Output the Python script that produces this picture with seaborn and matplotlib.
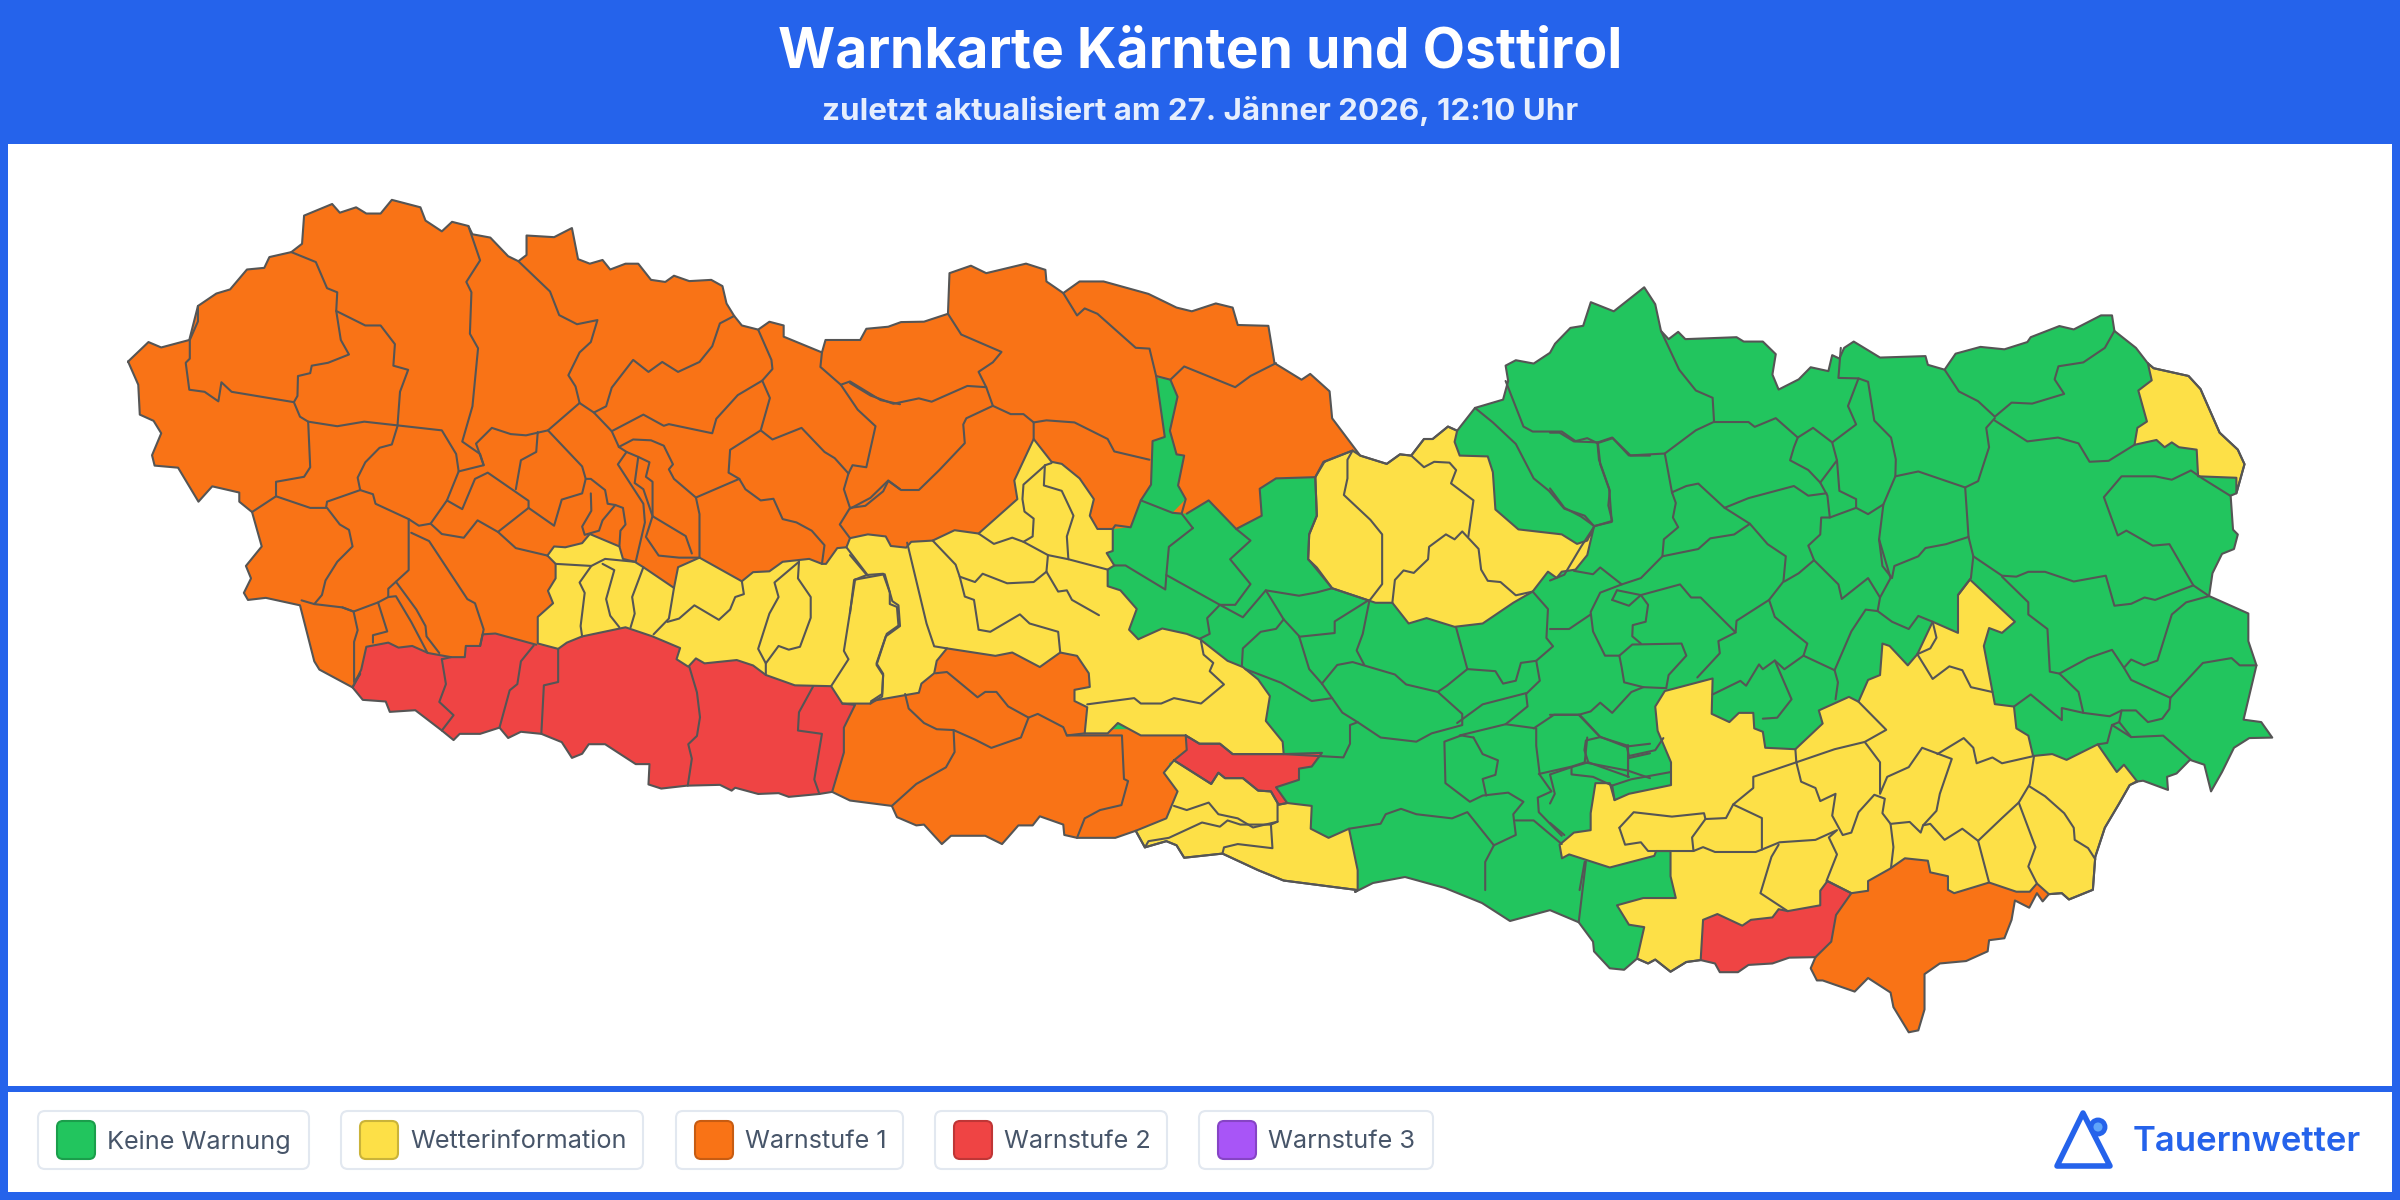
import matplotlib
matplotlib.use("Agg")
import matplotlib.pyplot as plt
from matplotlib.patches import Polygon, Rectangle, FancyBboxPatch, Circle
import pandas as pd
import seaborn as sns

TITLE = "Warnkarte Kärnten und Osttirol"
SUBTITLE = "zuletzt aktualisiert am 27. Jänner 2026, 12:10 Uhr"
BRAND = "Tauernwetter"
LEVELS = ["Keine Warnung", "Wetterinformation", "Warnstufe 1", "Warnstufe 2", "Warnstufe 3"]
LEVEL_COLORS = ["#22C55E", "#FDE047", "#F97316", "#EF4444", "#A855F7"]
LEVEL_EDGES = ["#1B9E4B", "#CAB339", "#C75C12", "#BF3636", "#8644C5"]
BLUE = "#2563EB"
STROKE = "#555555"

# the map was traced on three crops of the picture: (left, top, x scale, y scale)
WEST = (100, 170, 1.96, 2.412)
MID = (850, 240, 1.96, 2.412)
EAST = (1550, 280, 2.0907, 2.063)


def to_xy(points, crop):
    return [(crop[0] + x / crop[2], crop[1] + y / crop[3]) for x, y in points]


# ---- outline, clockwise
west_top = [(55,462),(95,415),(120,428),(175,410),(192,328),(228,298),(255,288),(288,240),(322,236),(332,210),(375,198),(396,178),(400,110),(455,82),(470,103),(502,90),(522,105),(550,105),(572,72),(628,90),(638,122),(670,148),(690,125),(722,135),(730,155),(765,163),(800,208),(820,220),(836,205),(836,158),(890,162),(925,140),(937,215),(960,226),(985,217),(1000,240),(1030,226),(1055,226),(1080,265),(1108,270),(1125,255),(1155,268),(1198,265),(1220,280),(1228,322),(1243,352),(1258,375),(1290,385),(1312,366),(1340,375),(1340,402),(1415,440),(1422,410),(1490,410),(1502,383),(1545,378)]
mid_top = [(100,198),(145,197),(192,178),(195,80),(237,62),(267,80),(345,57),(383,72),(385,100),(418,128),(450,100),(497,100),(585,130),(640,163),(670,172),(717,153),(750,163),(760,205),(820,207),(832,297),(885,337),(902,323),(940,365),(945,430),(1000,520),(1052,540),(1078,517),(1100,520),(1125,480),(1142,480),(1172,450),(1190,460),(1225,405),(1280,385),(1290,340),(1285,303),(1305,290),(1340,298),(1372,272),(1382,250),(1412,212),(1437,207),(1452,150),(1497,172)]
east_outer = [(197,15),(220,50),(232,105),(248,122),(268,107),(283,122),(390,118),(405,127),(445,127),(472,153),(465,195),(478,226),(520,205),(545,180),(582,188),(590,155),(605,162),(615,140),(635,127),(690,160),(785,157),(790,175),(825,185),(848,152),(900,138),(950,143),(998,128),(1005,118),(1065,95),(1095,102),(1152,73),(1175,73),(1180,105),(1225,140),(1250,172),(1262,182),(1335,198),(1360,225),(1400,315),(1438,350),(1452,380),(1435,440),(1423,445),(1428,515),(1438,525),(1430,555),(1405,565),(1385,605),(1378,652),(1460,688),(1460,745),(1477,795),(1450,907),(1487,912),(1510,944),(1462,945),(1430,965),(1405,1015),(1382,1055),(1368,1000),(1338,990),(1310,1018),(1290,1025),(1292,1052),(1240,1033),(1225,1035),(1212,1042),(1190,1080),(1160,1130),(1140,1190),(1135,1258),(1085,1278),(1070,1265),(1043,1267),(1030,1282),(1018,1265),(1002,1295),(972,1280),(965,1320),(950,1358),(918,1362),(915,1385),(870,1405),(815,1410),(783,1432),(783,1505),(770,1548),(750,1552),(718,1500),(712,1470),(665,1440),(637,1468),(570,1445),(558,1445),(545,1420),(555,1397),(500,1398),(465,1410),(415,1413),(393,1428),(355,1428),(345,1410),(315,1403),(285,1407),(252,1427),(220,1402),(205,1410),(182,1400),(155,1423),(125,1420),(92,1385),(90,1365),(60,1325),(0,1300)]
south_link = [(1510,921),(1482,903),(1445,888),(1405,877),(1373,883),(1355,892)]
mid_bottom = [(995,1568),(850,1545),(800,1520),(730,1480),(655,1490),(640,1460),(620,1450),(578,1465),(560,1425),(520,1442),(445,1442),(420,1435),(418,1410),(372,1390),(358,1412),(330,1412),(298,1457),(265,1437),(198,1437),(180,1457),(145,1410),(130,1412),(92,1392),(82,1365),(0,1352)]
west_bottom = [(1435,1500),(1410,1505),(1350,1512),(1330,1503),(1290,1505),(1245,1490),(1238,1497),(1215,1483),(1150,1485),(1100,1492),(1075,1482),(1077,1433),(1050,1433),(990,1385),(958,1385),(945,1408),(925,1418),(905,1380),(865,1360),(825,1355),(800,1370),(783,1345),(745,1360),(705,1360),(693,1375),(670,1352),(618,1303),(568,1307),(560,1282),(515,1278),(495,1248),(430,1205),(420,1185),(392,1050),(325,1032),(290,1037),(282,1020),(296,985),(286,955),(317,908),(298,825),(273,800),(273,778),(220,763),(193,800),(153,718),(107,713),(102,688),(120,635),(105,605),(78,590),(75,518),(55,462)]

outline = (to_xy(west_top, WEST) + to_xy(mid_top, MID) + to_xy(east_outer, EAST) + south_link
           + to_xy(mid_bottom, MID) + to_xy(west_bottom, WEST))

# ---- colour blocks, painted in this order and clipped to the outline
orange_block = [(-1700,-700),(1010,-700),(1010,510),(985,508),(928,535),(912,572),(835,575),(803,600),(807,665),(757,697),(703,628),(660,660),(632,658),(570,628),(550,693),(515,697),(500,760),(500,1180),(660,1180),(660,1240),(625,1262),(642,1330),(620,1395),(560,1425),(520,1600),(-1700,1700)]
green_strip = [(600,332),(628,337),(642,378),(627,460),(640,517),(655,520),(643,592),(658,625),(632,658),(570,628),(590,590),(593,485),(617,475)]
yellow_mid_west = [(877,930),(890,908),(912,910),(945,900),(960,878),(1018,908),(1025,938),(1048,945),(1065,958),(1125,1008),(1133,958),(1175,935),(1258,992),(1280,970),(1312,968),(1338,945),(1390,938),(1415,950),(1423,950),(1445,912),(1463,910),(1470,888)]
yellow_mid_north = [(35,710),(70,715),(80,738),(110,742),(120,728),(162,725),(205,700),(252,708),(328,625),(322,580),(360,480),(395,535),(415,540),(450,575),(478,625),(470,665),(485,697),(515,697),(515,750),(503,755),(518,785),(505,795),(505,835),(530,845),(562,890),(547,940),(565,963),(612,937),(660,950),(685,962),(740,1015),(770,1030),(800,1060),(823,1100),(815,1160),(848,1210),(850,1240),(750,1240),(725,1215),(685,1215),(658,1195),(600,1195),(570,1195),(525,1165),(505,1190),(460,1190),(465,1127),(440,1112),(440,1085),(470,1078),(468,1045),(445,1003),(412,995),(372,1030),(318,995),(285,1003),(190,985),(170,1015),(165,1045),(140,1070),(135,1092),(42,1112)]
yellow_mid_south = [(1510,1287),(1455,1287),(1433,1245),(1362,1243),(1305,1218),(1280,1195),(1248,1182),(1185,1190),(1168,1178),(1153,1198),(1130,1180),(1137,1153),(1083,1125),(1030,1103),(945,1125),(915,1140),(898,1155),(858,1142),(858,1078),(888,1045),(878,1015),(893,985),(893,950)]
yellow_south = [(635,1255),(615,1285),(642,1330),(620,1395),(560,1425),(578,1465),(620,1450),(640,1460),(655,1490),(730,1480),(800,1520),(850,1545),(995,1568),(995,1520),(978,1420),(938,1442),(903,1420),(905,1365),(857,1358),(840,1362),(825,1330),(800,1328),(770,1298),(735,1298),(722,1285),(708,1312)]
yellow_north = [(930,535),(985,508),(1000,520),(1052,540),(1078,517),(1100,520),(1125,480),(1142,480),(1172,450),(1190,460),(1185,487),(1195,520),(1250,522),(1260,560),(1265,650),(1310,698),(1395,710),(1425,733),(1445,725),(1458,692),(1445,760),(1422,795),(1395,800),(1385,815),(1368,800),(1338,848),(1300,875),(1240,925),(1185,933),(1130,912),(1095,925),(1063,875),(1030,875),(1018,870),(945,840),(905,780),(898,770),(900,710),(915,665),(912,572)]
yellow_ne = [(1250,172),(1262,182),(1335,198),(1360,225),(1400,315),(1438,350),(1452,380),(1435,440),(1435,408),(1355,405),(1352,350),(1315,345),(1300,335),(1285,345),(1268,330),(1222,340),(1228,305),(1248,292),(1230,228),(1258,207)]
yellow_se = [(878,618),(972,705),(945,728),(918,718),(907,755),(930,875),(970,880),(975,925),(1000,940),(1010,982),(1050,978),(1080,990),(1145,958),(1185,1015),(1200,1000),(1228,1035),(1212,1042),(1190,1080),(1160,1130),(1140,1190),(1135,1258),(1085,1278),(1070,1265),(1043,1267),(1018,1245),(1003,1262),(975,1262),(918,1243),(845,1265),(832,1258),(832,1230),(795,1222),(790,1198),(742,1193),(710,1215),(665,1240),(665,1260),(630,1265),(580,1240),(565,1260),(565,1290),(497,1302),(478,1298),(465,1315),(420,1320),(402,1332),(350,1308),(320,1320),(315,1403),(285,1407),(252,1427),(220,1402),(205,1410),(182,1400),(197,1335),(165,1330),(140,1290),(195,1275),(263,1275),(252,1230),(252,1178),(222,1178),(218,1188),(125,1212),(40,1185),(25,1193),(20,1165),(50,1140),(85,1135),(85,1100),(95,1038),(125,1038),(135,1073),(165,1060),(253,1042),(253,995),(225,930),(220,880),(240,848),(340,822),(338,895),(375,912),(395,893),(425,893),(427,925),(445,932),(450,965),(513,968),(570,915),(562,888),(625,860),(645,870),(665,825),(690,815),(695,750),(710,755),(748,795),(768,772),(800,705),(853,728),(853,650)]
red_west = [(495,1248),(512,1205),(522,1150),(565,1140),(585,1152),(612,1148),(643,1165),(688,1175),(715,1175),(717,1148),(745,1148),(750,1120),(775,1118),(855,1145),(898,1155),(915,1140),(945,1125),(1030,1103),(1083,1125),(1137,1153),(1130,1180),(1153,1198),(1168,1178),(1185,1190),(1248,1182),(1280,1195),(1305,1218),(1362,1243),(1433,1245),(1455,1287),(1480,1290),(1458,1345),(1458,1405),(1435,1500),(1435,1700),(400,1700),(400,1300)]
red_mid = [(658,1195),(685,1215),(725,1215),(750,1240),(850,1240),(925,1237),(905,1270),(880,1275),(880,1302),(835,1320),(857,1358),(840,1362),(825,1330),(800,1328),(770,1298),(735,1298),(722,1285),(708,1312),(635,1255),(660,1230)]
red_east = [(580,1240),(565,1260),(565,1290),(497,1302),(478,1298),(465,1315),(420,1320),(402,1332),(350,1308),(320,1320),(315,1403),(300,1500),(600,1500),(555,1397),(588,1365),(598,1310),(630,1265)]
orange_east = [(630,1265),(665,1260),(665,1240),(710,1215),(742,1193),(790,1198),(795,1222),(832,1230),(832,1258),(845,1265),(918,1243),(975,1262),(1003,1262),(1018,1245),(1043,1267),(1100,1290),(1100,1700),(545,1700),(545,1420),(555,1397),(588,1365),(598,1310)]

yellow_mid = to_xy(yellow_mid_west, WEST) + to_xy(yellow_mid_north, MID) + to_xy(yellow_mid_south, WEST)

blocks = [
    (2, to_xy(orange_block, MID)),
    (0, to_xy(green_strip, MID)),
    (1, yellow_mid),
    (1, to_xy(yellow_south, MID)),
    (1, to_xy(yellow_north, MID)),
    (1, to_xy(yellow_ne, EAST)),
    (1, to_xy(yellow_se, EAST)),
    (3, to_xy(red_west, WEST)),
    (3, to_xy(red_mid, MID)),
    (3, to_xy(red_east, EAST)),
    (2, to_xy(orange_east, EAST)),
]

# ---- inner borders between the districts
west_borders = [
    [(192,328),(192,365),(176,410),(176,455),(168,465),(175,530),(205,535),(232,558),(238,512),(258,535),(380,560),(392,595),(408,607),(465,618),(518,607),(670,628),(698,685),(703,727),(752,712),(737,660),(768,622),(805,637),(835,640),(878,628),(940,562),(968,585),(1003,630),(1017,668)],
    [(375,198),(423,222),(445,285),(465,295),(463,340),(472,410),(488,445),(447,465),(415,472),(412,490),(388,497),(387,545),(380,560)],
    [(463,340),(520,375),(550,375),(578,420),(575,472),(604,482),(588,535),(583,618),(572,662),(548,670),(520,705),(505,742),(510,772),(445,800),(443,815),(412,815),(345,787),(298,825)],
    [(408,607),(412,717),(400,740),(345,752),(345,787)],
    [(722,135),(745,218),(718,270),(728,295),(725,395),(741,430),(730,570),(710,655),(745,685),(752,712)],
    [(820,220),(882,293),(900,350),(935,372),(975,362),(962,415),(940,440),(918,495),(932,522),(940,562)],
    [(968,585),(992,570),(1003,525),(1045,458),(1075,487),(1102,463),(1133,487),(1175,463),(1200,425),(1215,370),(1243,352)],
    [(1003,630),(1065,590),(1105,617),(1115,613),(1200,635),(1208,600),(1250,543),(1298,508),(1318,480),(1316,458),(1290,385)],
    [(1298,508),(1313,550),(1295,628),(1235,675),(1232,730),(1253,745),(1168,790),(1125,745),(1115,722),(1123,710),(1105,665),(1080,652),(1045,650),(1017,668)],
    [(1168,790),(1175,830),(1175,935)],
    [(1295,628),(1318,650),(1375,622),(1420,680),(1440,695),(1467,732),(1458,770),(1470,815),(1450,855),(1470,888)],
    [(1415,440),(1412,475),(1452,518),(1470,510),(1530,555),(1568,565)],
    [(1452,518),(1485,578),(1520,618),(1502,717),(1475,712),(1467,732)],
    [(1470,815),(1500,810),(1535,775),(1545,750),(1568,770)],
    [(1253,745),(1265,770),(1295,797),(1320,793),(1338,842),(1365,850),(1395,870),(1420,905),(1415,950)],
    [(878,628),(945,715),(952,745),(945,780),(905,795),(890,858),(840,815),(840,798),(760,730),(735,745),(710,818),(680,797),(703,727)],
    [(680,797),(648,853),(625,858),(605,842),(540,805),(535,782),(510,772)],
    [(858,632),(855,680),(825,700),(815,770)],
    [(840,815),(780,873),(740,845),(713,887),(670,878),(648,853)],
    [(780,873),(815,912),(877,930)],
    [(952,745),(962,745),(990,772),(995,805),(1010,808),(1025,815),(1030,855),(1020,870),(1018,908)],
    [(962,780),(963,822),(945,860),(950,880),(978,870),(985,845),(1010,808)],
    [(605,842),(605,965),(565,1010),(565,1030),(545,1043),(497,1065),(475,1055),(420,1047),(395,1038)],
    [(445,815),(470,855),(488,868),(495,908),(465,945),(442,990),(435,1025),(420,1047)],
    [(610,875),(645,895),(720,1035),(735,1045),(752,1108),(745,1148)],
    [(580,993),(620,1060),(638,1100),(640,1125),(665,1165)],
    [(565,1030),(580,1028),(610,1090),(642,1165)],
    [(545,1043),(563,1113),(535,1122),(535,1140)],
    [(475,1055),(497,1065),(505,1110),(498,1138),(498,1235),(510,1215),(495,1248)],
    [(1032,680),(1015,710),(1065,805),(1068,850),(1050,945)],
    [(1017,668),(1032,680),(1055,692),(1048,755),(1065,770),(1083,835),(1070,885),(1095,930),(1135,935),(1175,935)],
    [(1055,692),(1077,705),(1070,740),(1083,752),(1083,835),(1148,883),(1160,925)],
    [(893,950),(963,955),(990,938),(1048,945)],
    [(963,955),(940,995),(950,1020),(942,1100),(945,1125)],
    [(985,950),(1008,965),(992,1035),(1000,1075),(1018,1103)],
    [(1065,958),(1043,1030),(1048,1070),(1040,1103)],
    [(1125,1008),(1115,1082),(1085,1120)],
    [(1112,1090),(1135,1082),(1165,1050),(1213,1085),(1235,1060),(1245,1030),(1262,1023),(1258,992)],
    [(1370,945),(1322,995),(1330,1030),(1312,1070),(1290,1155),(1305,1190),(1305,1218)],
    [(1305,1190),(1330,1148),(1350,1157),(1372,1150),(1393,1080),(1393,1030),(1368,985),(1370,945)],
    [(1463,910),(1505,978)],
    [(1480,988),(1458,1160),(1467,1180),(1433,1245)],
    [(1480,988),(1538,975),(1553,1040),(1565,1050),(1568,1100),(1540,1125),(1522,1190),(1535,1215),(1533,1270),(1510,1287)],
    [(670,1180),(678,1240),(665,1283),(693,1315),(670,1352)],
    [(670,1180),(688,1175)],
    [(850,1147),(825,1185),(818,1240),(803,1255),(783,1345)],
    [(898,1155),(898,1235),(870,1243),(865,1360)],
    [(1155,1198),(1170,1260),(1176,1320),(1170,1365),(1153,1385),(1160,1420),(1152,1485)],
    [(1398,1245),(1370,1308),(1368,1352),(1415,1360),(1400,1470),(1410,1505)],
    [(495,1248),(512,1205),(522,1150),(565,1140),(585,1152),(612,1148),(643,1165),(688,1175),(715,1175),(717,1148),(745,1148),(750,1120),(775,1118),(855,1145)],
    [(1455,1287),(1480,1290),(1458,1345),(1458,1405),(1435,1500)],
]
mid_borders = [
    [(418,128),(445,182),(460,165),(485,178),(560,260),(587,262),(600,328),(628,337),(655,305),(755,355),(785,328),(835,297)],
    [(192,178),(218,228),(297,270),(280,295),(252,318),(267,355),(280,400)],
    [(267,355),(230,352),(160,390),(135,382),(85,395),(40,375),(0,345)],
    [(280,400),(228,430),(222,445),(225,490),(175,555),(135,603),(100,603),(75,580),(40,622),(0,648)],
    [(280,400),(315,420),(340,420),(360,440),(360,480)],
    [(360,440),(385,435),(440,440),(505,480),(518,510),(587,530)],
    [(600,328),(617,475),(593,485),(590,590),(570,628)],
    [(628,337),(642,378),(627,460),(640,517),(655,520),(643,592),(658,625),(650,660),(672,695)],
    [(985,508),(928,535),(912,572),(835,575),(803,600),(807,665),(757,697),(703,628),(660,660)],
    [(515,697),(520,688),(550,693),(570,628),(632,658),(650,660)],
    [(395,538),(383,543),(340,590),(338,625),(342,655),(360,672),(358,715),(340,728),(318,718),(282,733),(252,708)],
    [(382,543),(380,592),(415,605),(438,665),(425,715),(428,770)],
    [(340,728),(388,760),(428,770),(505,795)],
    [(388,760),(385,800),(360,825),(308,828),(260,805),(245,825),(215,812),(207,783),(162,725)],
    [(385,800),(408,848),(425,845),(435,868),(488,905)],
    [(215,812),(225,860),(243,868),(252,940),(275,945),(333,903),(352,925),(408,945),(412,995)],
    [(112,730),(150,925),(165,980),(190,985)],
    [(0,760),(33,808),(65,805),(78,850),(78,878),(92,885),(95,930),(72,950),(52,1025),(65,1050),(63,1095),(42,1112)],
    [(33,808),(8,820),(0,900)],
    [(168,1045),(190,1042),(250,1103),(265,1090),(287,1090),(310,1125),(350,1152),(368,1143),(418,1175),(425,1195),(460,1190)],
    [(350,1152),(335,1200),(277,1225),(245,1205),(203,1182),(170,1180),(145,1165),(115,1130),(108,1095)],
    [(203,1182),(205,1235),(188,1272),(130,1312),(82,1365)],
    [(425,1195),(533,1195),(537,1300),(545,1305),(532,1363),(490,1375),(460,1395),(445,1442)],
    [(688,968),(693,1000),(712,1020),(705,1040),(733,1072),(688,1118),(635,1105),(610,1118),(570,1118),(557,1105),(465,1120)],
    [(635,1365),(660,1375),(703,1357),(722,1385),(760,1395),(790,1417),(838,1403),(838,1360)],
    [(578,1465),(585,1450),(625,1442),(690,1405),(725,1415),(740,1400),(765,1410),(825,1410),(828,1467),(760,1457),(733,1465),(730,1480)],
    [(838,1403),(825,1410)],
    [(1285,340),(1320,450),(1338,462),(1395,462),(1422,485),(1445,478),(1465,490),(1495,478),(1530,520),(1568,520)],
    [(1225,405),(1260,440),(1305,492),(1340,575),(1370,605),(1400,648),(1440,665),(1458,690),(1493,680),(1488,600),(1468,530),(1465,490)],
    [(912,572),(915,665),(900,710),(898,770),(915,790),(945,840),(1018,870),(1043,830),(1043,710),(1020,675),(968,615),(975,575),(975,530),(985,508)],
    [(1063,875),(1068,820),(1085,797),(1105,803),(1133,770),(1135,740),(1168,710),(1185,722),(1200,703),(1232,745),(1237,795),(1250,822),(1275,825),(1305,857),(1338,848)],
    [(1212,715),(1222,628),(1178,587),(1188,555),(1175,537),(1145,535),(1125,548),(1100,520)],
    [(1338,848),(1368,890),(1365,960),(1378,980),(1345,1015),(1352,1063),(1325,1095)],
    [(725,880),(770,910),(815,845),(880,858),(915,850),(945,840)],
    [(620,808),(725,880),(700,912),(705,950),(685,962)],
    [(725,880),(755,880),(785,830),(745,770),(785,725),(757,697)],
    [(672,695),(625,740),(620,808),(618,843),(540,785),(518,785)],
    [(815,845),(850,915),(835,938),(805,945),(770,985),(768,1028)],
    [(850,915),(880,955),(900,1035),(925,1070),(945,1105),(965,1140),(995,1163),(1040,1200),(1110,1210),(1140,1190),(1200,1170),(1200,1143),(1152,1090),(1090,1072),(1068,1048),(985,1018),(955,1025),(925,1070)],
    [(880,957),(950,948),(950,920),(1015,870)],
    [(1018,870),(1005,950),(993,990),(1008,1025)],
    [(1188,935),(1210,1035),(1170,1075),(1152,1090)],
    [(1210,1035),(1265,1040),(1280,1070),(1305,1063),(1315,1020),(1345,1015)],
    [(1190,1165),(1240,1120),(1325,1093),(1328,1125),(1285,1168),(1195,1195)],
    [(1285,1168),(1345,1178),(1345,1220),(1352,1290),(1375,1330),(1348,1345),(1350,1380),(1395,1437)],
    [(1350,1288),(1415,1270),(1440,1260),(1525,1280)],
    [(1340,1178),(1380,1145),(1430,1145),(1470,1198),(1520,1222),(1568,1215)],
    [(1445,1200),(1440,1260)],
    [(1525,1250),(1568,1238)],
    [(1525,1250),(1525,1280),(1568,1298)],
    [(775,1035),(845,1068),(905,1112),(945,1105)],
    [(850,1240),(967,1248),(980,1215),(980,1170),(995,1163)],
    [(1198,1195),(1165,1210),(1167,1310),(1215,1355),(1240,1340),(1290,1333),(1320,1355),(1300,1385),(1305,1435),(1262,1460),(1210,1380),(1180,1395),(1110,1385),(1080,1372),(1050,1385),(1040,1408),(978,1420)],
    [(1262,1460),(1245,1500),(1245,1568)],
    [(1222,1200),(1240,1240),(1270,1255),(1265,1290),(1240,1300),(1247,1340)],
    [(1222,1200),(1198,1195)],
    [(1305,1400),(1340,1400),(1395,1457)],
    [(1440,1500),(1430,1568)],
]
east_borders = [
    [(0,315),(20,315),(50,333),(100,335),(130,325),(165,362),(240,358),(305,310),(342,293),(415,293),(428,303),(472,285),(518,325),(510,345),(502,372),(540,392),(565,418),(580,445),(585,490),(640,470),(665,483),(697,463),(722,405),(723,370),(713,325),(678,290),(665,210),(645,203),(603,202),(608,140)],
    [(232,105),(270,185),(305,228),(340,243),(343,293)],
    [(240,358),(255,438),(263,460),(257,490),(268,510),(238,535),(235,570),(310,555),(335,533),(385,525),(418,503),(365,470),(310,420),(285,425),(255,438)],
    [(100,335),(105,380),(125,435),(122,465),(130,497),(93,508),(65,550),(30,608),(0,620)],
    [(0,430),(30,470),(65,488),(93,508)],
    [(235,570),(190,615),(150,628),(105,593),(90,607),(50,600)],
    [(0,720),(40,720),(85,690)],
    [(150,628),(105,645),(85,685),(90,725),(115,775),(145,775),(172,752),(275,750),(285,775),(248,815),(243,842)],
    [(130,660),(140,640),(190,650),(205,670),(200,705),(173,712),(172,735),(190,750)],
    [(130,660),(165,672),(190,650),(272,628),(295,655),(315,655),(388,727)],
    [(418,503),(455,545),(493,570),(488,622),(458,660),(390,703),(388,727),(352,745),(355,770),(308,820)],
    [(365,470),(415,450),(510,425),(540,445),(578,440)],
    [(490,622),(520,605),(552,578),(603,628),(610,658),(665,615),(690,655),(712,615),(688,535)],
    [(552,578),(540,548),(565,525),(567,490),(585,490)],
    [(640,470),(640,452),(605,435),(600,372),(565,418)],
    [(600,372),(590,335),(640,298),(623,260),(645,203)],
    [(590,335),(550,305),(518,325)],
    [(697,463),(688,535),(695,590),(715,615),(720,590),(770,570),(785,553),(828,545),(875,530)],
    [(722,405),(770,395),(868,428),(875,530),(885,570),(880,615),(853,650)],
    [(868,428),(895,415),(918,345),(912,305),(930,285)],
    [(825,185),(855,230),(895,250),(930,282),(965,253),(1008,255),(1075,235),(1055,205),(1063,178),(1115,170),(1160,140),(1180,105)],
    [(930,290),(998,333),(1062,325),(1105,337),(1128,375),(1168,373),(1222,340)],
    [(885,570),(945,610),(975,612),(1000,602),(1035,602),(1095,622),(1162,610),(1180,672),(1215,668),(1243,655),(1265,660),(1345,630),(1295,545),(1260,548),(1205,517),(1187,527),(1158,448),(1195,405),(1265,405),(1300,412),(1340,393),(1365,410),(1422,445)],
    [(1345,630),(1378,652),(1330,665),(1300,690),(1270,785),(1242,795),(1215,783),(1200,800),(1215,825),(1297,862),(1295,885),(1280,905),(1250,912),(1225,888),(1195,888),(1170,900),(1115,893),(1105,850),(1065,812),(1045,808),(1040,720),(1000,690),(1000,665),(945,612)],
    [(1065,812),(1125,780),(1175,763),(1200,800)],
    [(1297,862),(1365,790),(1425,780),(1442,795),(1477,795)],
    [(1195,888),(1190,912),(1175,918),(1165,955),(1145,958)],
    [(1175,918),(1215,943),(1282,940),(1340,990)],
    [(1190,912),(1215,943)],
    [(1115,893),(1070,883),(1070,908),(1005,855),(970,880)],
    [(685,683),(715,705),(750,720),(770,693),(800,705),(808,738),(795,760),(768,772)],
    [(690,655),(685,683),(660,680),(630,725),(595,805),(530,775),(538,750),(510,728),(470,695),(458,660)],
    [(530,775),(490,803),(470,785),(445,803),(437,793),(410,837),(398,827),(340,855)],
    [(470,785),(505,865),(475,903),(445,905)],
    [(595,805),(602,830),(597,865)],
    [(243,842),(195,840),(155,830),(150,800),(145,775)],
    [(195,840),(170,850),(130,893),(105,872),(85,890),(60,897),(0,897)],
    [(60,897),(105,943),(160,960),(165,982),(220,970),(237,945)],
    [(105,943),(75,950),(72,970),(80,995),(45,1005),(45,1020),(90,1025),(130,1043),(170,1030),(253,1015)],
    [(163,960),(163,1025)],
    [(80,995),(165,1025)],
    [(45,1005),(0,1020),(10,1060),(0,1080)],
    [(135,1073),(130,1043)],
    [(0,1120),(30,1145)],
    [(75,1200),(60,1325)],
    [(513,968),(515,995),(595,968),(658,953),(703,928),(645,870)],
    [(658,953),(690,995),(690,1060),(705,1025),(750,1005),(778,965),(840,988),(815,1060),(808,1095),(780,1125),(775,1140),(752,1118),(712,1122),(695,1100),(700,1070),(678,1062),(645,1098),(630,1140),(612,1145),(590,1105),(597,1060),(565,1075),(555,1048),(525,1035),(515,995)],
    [(515,995),(425,1025),(425,1048),(383,1082),(368,1110),(325,1112),(322,1100),(255,1107),(175,1098),(145,1130)],
    [(383,1082),(443,1110),(443,1175),(430,1180),(345,1180),(320,1170),(300,1178),(297,1150),(325,1112)],
    [(145,1130),(157,1165),(190,1160),(205,1178),(300,1178)],
    [(443,1175),(480,1160),(555,1155),(600,1135),(583,1150),(600,1185),(578,1240)],
    [(478,1165),(463,1190),(440,1265),(497,1302)],
    [(712,1122),(718,1170),(713,1212)],
    [(780,1125),(795,1122),(825,1155),(862,1132),(895,1157),(918,1243)],
    [(895,1157),(945,1110),(980,1078),(1003,1040),(1012,982)],
    [(980,1078),(1015,1170),(1000,1210),(1018,1245)],
    [(1003,1045),(1035,1065),(1075,1100),(1095,1130),(1097,1155),(1125,1172),(1140,1195)],
    [(810,978),(865,945),(885,965),(892,997),(925,985),(945,997),(1012,982)],
    [(768,772),(800,823),(835,797),(862,805),(880,840),(925,850)],
    [(555,1397),(588,1365),(598,1310),(630,1265),(580,1240)],
]

# stroked closed shapes: the colour patches themselves are bordered too
closed = [yellow_mid, to_xy(yellow_south, MID), to_xy(yellow_north, MID), to_xy(yellow_ne, EAST),
          to_xy(yellow_se, EAST), to_xy(red_mid, MID), outline]
lines = ([to_xy(b, WEST) for b in west_borders] + [to_xy(b, MID) for b in mid_borders]
         + [to_xy(b, EAST) for b in east_borders] + [c + c[:1] for c in closed])

rows = []
for i, line in enumerate(lines):
    for x, y in line:
        rows.append({"border": i, "x": x, "y": y})
border_df = pd.DataFrame(rows)

sns.set_theme(style="white")
plt.rcParams["font.family"] = ["Inter", "DejaVu Sans"]
palette = sns.color_palette(LEVEL_COLORS)

fig, ax = plt.subplots(figsize=(24, 12), dpi=100)
fig.subplots_adjust(0, 0, 1, 1)
ax.set_xlim(0, 2400)
ax.set_ylim(1200, 0)
ax.axis("off")

# frame and header
ax.add_patch(Rectangle((0, 0), 2400, 1200, fc=BLUE, ec="none", zorder=0))
ax.add_patch(Rectangle((8, 144), 2384, 942, fc="white", ec="none", zorder=0.5))
ax.add_patch(Rectangle((8, 1092), 2384, 100, fc="white", ec="none", zorder=0.5))
ax.text(1200, 52, TITLE, color="white", fontsize=39.7, fontweight="bold", ha="center", va="center")
ax.text(1200, 110.5, SUBTITLE, color="#E6EEFD", fontsize=22.55, fontweight="bold", ha="center", va="center")

# map
shape = Polygon(outline, closed=True, fc=palette[0], ec="none", zorder=1)
ax.add_patch(shape)
for level, pts in blocks:
    p = Polygon(pts, closed=True, fc=palette[level], ec="none", zorder=1.5)
    ax.add_patch(p)
    p.set_clip_path(shape)
sns.lineplot(data=border_df, x="x", y="y", units="border", estimator=None, sort=False,
             color=STROKE, linewidth=1.5, legend=False, ax=ax, zorder=2)
ax.set_xlim(0, 2400)
ax.set_ylim(1200, 0)
ax.axis("off")

# legend
pill_left = [38, 341, 676, 935, 1199]
pill_right = [309, 643, 903, 1167, 1433]
for name, color, edge, left, right in zip(LEVELS, LEVEL_COLORS, LEVEL_EDGES, pill_left, pill_right):
    ax.add_patch(FancyBboxPatch((left, 1111), right - left, 58, boxstyle="round,pad=0,rounding_size=7",
                                fc="white", ec="#E2E8F0", lw=1.5, zorder=3))
    ax.add_patch(FancyBboxPatch((left + 19, 1121), 38, 38, boxstyle="round,pad=0,rounding_size=6",
                                fc=color, ec=edge, lw=1.5, zorder=4))
    ax.text(left + 69, 1142, name, color="#475569", fontsize=18.2, ha="left", va="center", zorder=4)

# logo
ax.add_patch(Polygon([(2083, 1113), (2110, 1166), (2057, 1166)], closed=True, fc="none", ec=BLUE, lw=4,
                     joinstyle="round", zorder=4))
ax.add_patch(Circle((2098, 1127), 7, fc="#60A5FA", ec=BLUE, lw=3.5, zorder=5))
ax.text(2133, 1142, BRAND, color=BLUE, fontsize=25, fontweight="semibold", ha="left", va="center", zorder=4)

fig.savefig("out.png", dpi=100)
